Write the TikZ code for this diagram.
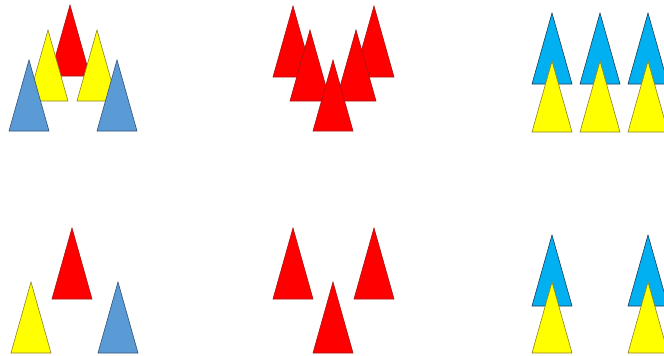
\documentclass[tikz,border=0pt]{standalone}
\usepackage{tikz}
\definecolor{coneRed}{RGB}{255,0,0}
\definecolor{coneRedLine}{RGB}{165,20,20}
\definecolor{coneYellow}{RGB}{255,255,0}
\definecolor{coneYellowLine}{RGB}{140,130,40}
\definecolor{coneSteel}{RGB}{91,155,213}
\definecolor{coneSteelLine}{RGB}{50,80,120}
\definecolor{coneCyan}{RGB}{0,176,240}
\definecolor{coneCyanLine}{RGB}{30,60,90}
\tikzset{
    cone/.pic={
        \path[pic actions] (0,0) -- (20,71) -- (-20,71) -- cycle;
    },
    redCone/.style={fill=coneRed, draw=coneRedLine, line width=0.6pt},
    yellowCone/.style={fill=coneYellow, draw=coneYellowLine, line width=0.6pt},
    steelCone/.style={fill=coneSteel, draw=coneSteelLine, line width=0.6pt},
    cyanCone/.style={fill=coneCyan, draw=coneCyanLine, line width=0.6pt}
}
\begin{document}
\begin{tikzpicture}[x=1pt, y=-1pt]
            \useasboundingbox (0,0) rectangle (664,356);
            
            % Top left: red, yellow, blue
            \pic[redCone] at (70,5) {cone};
            \pic[yellowCone] at (48,30) {cone};
            \pic[yellowCone] at (97,30) {cone};
            \pic[steelCone] at (29,60) {cone};
            \pic[steelCone] at (117,60) {cone};
            
            % Top middle: five red
            \pic[redCone] at (293,6) {cone};
            \pic[redCone] at (374,6) {cone};
            \pic[redCone] at (310,30) {cone};
            \pic[redCone] at (356,30) {cone};
            \pic[redCone] at (333,60) {cone};
            
            % Top right: blue over yellow
            \foreach \x in {552,600,648} {
                \pic[cyanCone] at (\x,13) {cone};
                \pic[yellowCone] at (\x,61) {cone};
            }
            
            % Bottom left
            \pic[redCone] at (72,228) {cone};
            \pic[yellowCone] at (31,282) {cone};
            \pic[steelCone] at (118,282) {cone};
            
            % Bottom middle
            \pic[redCone] at (293,228) {cone};
            \pic[redCone] at (374,228) {cone};
            \pic[redCone] at (333,282) {cone};
            
            % Bottom right
            \foreach \x in {552,648} {
                \pic[cyanCone] at (\x,235) {cone};
                \pic[yellowCone] at (\x,282) {cone};
            }
        \end{tikzpicture}
\end{document}
